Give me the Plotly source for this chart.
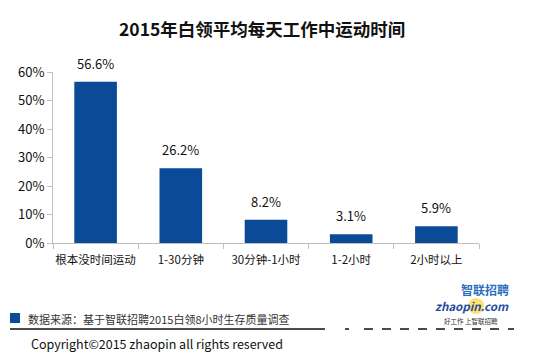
import plotly.graph_objects as go

categories = ["根本没时间运动", "1-30分钟", "30分钟-1小时", "1-2小时", "2小时以上"]
values = [56.6, 26.2, 8.2, 3.1, 5.9]
tick_vals = [0, 10, 20, 30, 40, 50, 60]
tick_text = ["0%", "10%", "20%", "30%", "40%", "50%", "60%"]

# the page body has an 8px default margin, so the figure is placed at (8, 8)
OFF = 8
W, H = 550 - OFF, 355 - OFF
L, R, T, B = 53 - OFF, 479 - OFF, 72 - OFF, 243 - OFF
FONT = "Noto Sans CJK SC, Open Sans, sans-serif"
BLUE = "#0B4A96"


def px(x):
    return (x - OFF - L) / (R - L)


def py(y):
    return (B - (y - OFF)) / (B - T)


fig = go.Figure()
fig.add_trace(go.Bar(
    x=categories, y=values, width=0.5,
    marker=dict(color=BLUE, line=dict(width=0)),
    hoverinfo="skip",
))

annotations = []
for c, v in zip(categories, values):
    annotations.append(dict(x=c, y=v, xref="x", yref="y", text=f"{v:.1f}%",
                            showarrow=False, yanchor="bottom", yshift=7,
                            font=dict(size=13, color="#111", family=FONT)))

annotations += [
    dict(x=px(262), y=py(28), xref="paper", yref="paper",
         xanchor="center", yanchor="middle",
         text="<b>2015年白领平均每天工作中运动时间</b>", showarrow=False,
         font=dict(size=17.5, color="#111", family=FONT)),
    dict(x=px(26), y=py(319), xref="paper", yref="paper", xanchor="left", yanchor="middle",
         text="数据来源：基于智联招聘2015白领8小时生存质量调查", showarrow=False,
         font=dict(size=11, color="#333", family=FONT)),
    dict(x=px(29), y=py(343), xref="paper", yref="paper", xanchor="left", yanchor="middle",
         text="Copyright©2015 zhaopin all rights reserved", showarrow=False,
         font=dict(size=12.5, color="#111", family=FONT)),
    dict(x=px(511), y=py(289), xref="paper", yref="paper", xanchor="right", yanchor="middle",
         text="<b>智联招聘</b>", showarrow=False,
         font=dict(size=12, color="#2C6FC0", family=FONT)),
    dict(x=px(511), y=py(306), xref="paper", yref="paper", xanchor="right", yanchor="middle",
         text="<b><i>zhaopin.com</i></b>", showarrow=False,
         font=dict(size=11.5, color="#1F4E9A", family=FONT)),
    dict(x=px(500), y=py(321), xref="paper", yref="paper", xanchor="right", yanchor="middle",
         text="好工作 上智联招聘", showarrow=False,
         font=dict(size=6.5, color="#333", family=FONT)),
]

shapes = [
    dict(type="rect", xref="paper", yref="paper", x0=px(10), x1=px(20), y0=py(313), y1=py(323),
         fillcolor=BLUE, line=dict(width=0)),
    dict(type="line", xref="paper", yref="paper", x0=px(10), x1=px(325), y0=py(329), y1=py(329),
         line=dict(color="#111", width=1.5)),
    dict(type="line", xref="paper", yref="paper", x0=px(345), x1=px(349), y0=py(329), y1=py(329),
         line=dict(color="#111", width=1.5)),
    dict(type="line", xref="paper", yref="paper", x0=px(364), x1=px(514), y0=py(329), y1=py(329),
         line=dict(color="#111", width=1.5, dash="dash")),
    dict(type="circle", xref="paper", yref="paper", x0=px(468), x1=px(484), y0=py(298), y1=py(314),
         fillcolor="rgba(255,200,0,0.55)", line=dict(width=0), layer="below"),
]

fig.update_layout(
    width=W, height=H,
    margin=dict(l=L, r=W - R, t=T, b=H - B, pad=0, autoexpand=False),
    paper_bgcolor="white", plot_bgcolor="white",
    showlegend=False,
    font=dict(family=FONT, color="#111"),
    bargap=0.5,
    xaxis=dict(
        type="category", showgrid=False, zeroline=False, automargin=False,
        showline=True, linecolor="#BFBFBF", linewidth=1,
        ticks="outside", tickson="boundaries", ticklen=5, tickcolor="#BFBFBF",
        tickangle=0, ticklabelstandoff=6,
        tickfont=dict(size=11.5, color="#111", family=FONT),
        range=[-0.5, 4.5],
    ),
    yaxis=dict(
        range=[0, 60], tickvals=tick_vals, ticktext=tick_text, automargin=False,
        showgrid=False, zeroline=False,
        showline=True, linecolor="#BFBFBF", linewidth=1,
        ticks="outside", ticklen=5, tickcolor="#BFBFBF",
        tickfont=dict(size=13, color="#111", family=FONT),
    ),
    annotations=annotations,
    shapes=shapes,
)

fig.write_html("out.html")
